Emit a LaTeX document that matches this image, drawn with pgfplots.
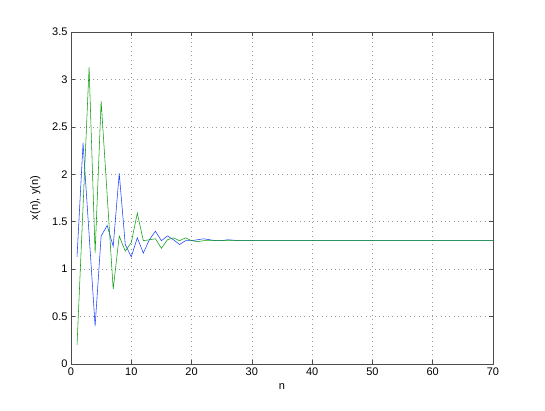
\documentclass[border=0pt]{standalone}
\usepackage{pgfplots}
\usepackage{pgfplotstable}
\usepackage{fontspec}
\setmainfont{Liberation Sans}
\pgfplotsset{compat=1.18}

\definecolor{mblue}{rgb}{0.1,0.25,1}
\definecolor{mgreen}{rgb}{0.05,0.62,0.05}

% n, x(n), y(n)
\pgfplotstableread{
n  x     y
1  1.13  0.20
2  2.33  1.66
3  1.37  3.13
4  0.40  1.17
5  1.35  2.77
6  1.46  1.78
7  1.24  0.79
8  2.01  1.35
9  1.26  1.19
10 1.13  1.28
11 1.33  1.59
12 1.17  1.30
13 1.31  1.31
14 1.40  1.32
15 1.30  1.22
16 1.35  1.31
17 1.31  1.33
18 1.26  1.30
19 1.30  1.33
20 1.30  1.30
21 1.31  1.29
22 1.32  1.30
23 1.31  1.30
24 1.30  1.30
25 1.30  1.30
26 1.31  1.30
27 1.305 1.30
28 1.30  1.30
29 1.30  1.30
30 1.30  1.30
35 1.30  1.30
40 1.30  1.30
45 1.30  1.30
50 1.30  1.30
55 1.30  1.30
60 1.30  1.30
65 1.30  1.30
70 1.30  1.30
}\seq

\begin{document}
\begin{tikzpicture}
\path[use as bounding box] (-71pt,-46pt) rectangle (474pt,364pt);
\begin{axis}[
    scale only axis,
    width=422pt, height=332pt,
    anchor=south west, at={(0,0)},
    xmin=0, xmax=70, ymin=0, ymax=3.5,
    xtick={0,10,...,70},
    ytick={0,0.5,...,3.5},
    yticklabels={0,0.5,1,1.5,2,2.5,3,3.5},
    tick align=inside,
    major tick length=4pt,
    tick style={black!70, line width=0.5pt},
    axis line style={black!70, line width=0.6pt},
    grid=major,
    major grid style={black!40, line width=0.6pt, dash pattern=on 0.8pt off 3.6pt},
    font=\fontsize{11}{13}\selectfont,
    /pgf/number format/assume math mode=true,
    xlabel={n}, ylabel={x(n), y(n)},
    xlabel style={yshift=-1pt},
    ylabel style={yshift=5pt},
]
\addplot[mblue, line width=0.55pt] table[x=n, y=x] {\seq};
\addplot[mgreen, line width=0.55pt] table[x=n, y=y] {\seq};
\end{axis}
\end{tikzpicture}
\end{document}
